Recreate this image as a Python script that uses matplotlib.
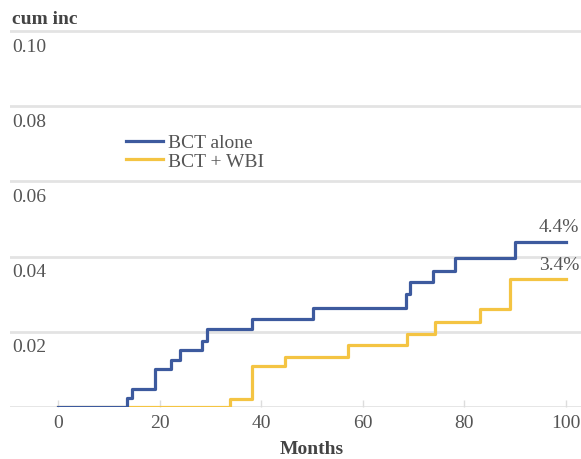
import matplotlib
matplotlib.use("Agg")
import matplotlib.pyplot as plt

# Cumulative incidence step curves (months, cumulative incidence)
bct_alone_months = [0, 13.5, 14.5, 19.0, 22.3, 24.0, 28.3, 29.3, 38.2, 50.2, 68.6, 69.3, 73.8, 78.1, 90.0, 100]
bct_alone_values = [0, 0.0023, 0.0047, 0.0100, 0.0126, 0.0152, 0.0175, 0.0208, 0.0235, 0.0264, 0.0300, 0.0333, 0.0363, 0.0397, 0.0440, 0.0440]

bct_wbi_months = [0, 33.9, 38.2, 44.7, 57.1, 68.7, 74.2, 83.1, 89.0, 100]
bct_wbi_values = [0, 0.0022, 0.0108, 0.0133, 0.0165, 0.0195, 0.0227, 0.0261, 0.0340, 0.0340]

series_names = ["BCT alone", "BCT + WBI"]
series_colors = ["#3d5a9e", "#f4c443"]

y_ticks = [0.02, 0.04, 0.06, 0.08, 0.10]
x_ticks = [0, 20, 40, 60, 80, 100]

plt.rcParams["font.family"] = ["Liberation Serif", "DejaVu Serif"]
FS = 14
TXT = "#555555"

W, H = 581, 460
fig = plt.figure(figsize=(W / 100, H / 100), dpi=100)

# Axes spans nearly the full width; y=0 sits at the baseline
px_left, px_right = 10, 581
px_top, px_bottom = 30, 408
ax = fig.add_axes([px_left / W, 1 - px_bottom / H, (px_right - px_left) / W, (px_bottom - px_top) / H])

x0_px, x100_px = 58, 566
ppm = (x100_px - x0_px) / 100.0
ax.set_xlim(-(x0_px - px_left) / ppm, 100 + (px_right - x100_px) / ppm)
ypp = 0.02 / 75.0
ax.set_ylim(0, 0.10 + (32 - px_top) * ypp)

for s in ax.spines.values():
    s.set_visible(False)

grid_color = "#e3e3e3"
for yv in y_ticks:
    ax.axhline(yv, color=grid_color, lw=2.0, zorder=1)
ax.axhline(0, color=grid_color, lw=2.0, zorder=1)

# Y labels sit just under each gridline at the left edge
for yv in y_ticks:
    ax.text(2 / ppm + ax.get_xlim()[0], yv - 15 * ypp, f"{yv:.2f}", ha="left", va="center",
            fontsize=FS, color=TXT)

ax.set_yticks([])
ax.set_xticks(x_ticks)
ax.tick_params(axis="x", direction="in", length=5, color="#dddddd", width=1.0,
               labelsize=FS, labelcolor=TXT, pad=5)

ax.step(bct_wbi_months, bct_wbi_values, where="post", color=series_colors[1], lw=2.3,
        label=series_names[1], zorder=3)
ax.step(bct_alone_months, bct_alone_values, where="post", color=series_colors[0], lw=2.3,
        label=series_names[0], zorder=4)

# End-of-follow-up value labels
for months, values in [(bct_alone_months, bct_alone_values), (bct_wbi_months, bct_wbi_values)]:
    ax.text(102.6, values[-1] + 15 * ypp, f"{values[-1] * 100:.1f}%", ha="right", va="center",
            fontsize=FS, color=TXT)

handles, labels = ax.get_legend_handles_labels()
leg = ax.legend(handles[::-1], labels[::-1], loc="upper left",
                bbox_to_anchor=((116 - px_left) / (px_right - px_left), 1 - (125 - px_top) / (px_bottom - px_top)),
                frameon=False, fontsize=FS, handlelength=1.9, handletextpad=0.3,
                labelspacing=0.05, borderpad=0)
for t in leg.get_texts():
    t.set_color(TXT)

fig.text(12 / W, 1 - 19 / H, "cum inc", ha="left", va="center", fontsize=FS,
         fontweight="bold", color="#444444")
fig.text(312 / W, 1 - 450 / H, "Months", ha="center", va="center", fontsize=FS,
         fontweight="bold", color="#444444")

fig.savefig("out.png", dpi=100)
